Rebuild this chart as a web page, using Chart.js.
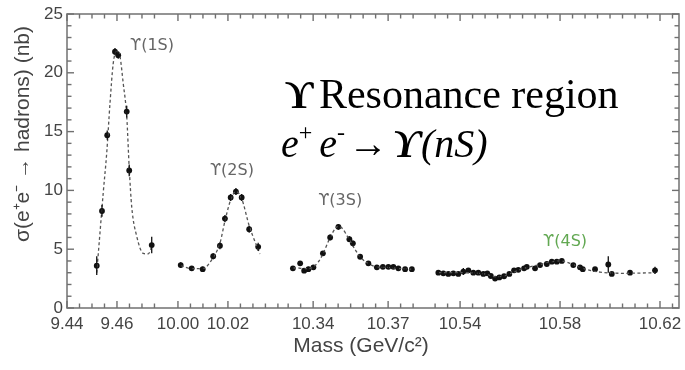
<!DOCTYPE html>
<html>
<head>
<meta charset="utf-8">
<title>Upsilon resonance region</title>
<script src="https://cdn.jsdelivr.net/npm/chart.js@4.4.1/dist/chart.umd.min.js"></script>
<style>
  html, body { margin: 0; padding: 0; background: #fff; }
  #wrap { width: 685px; height: 370px; position: relative; }
</style>
</head>
<body>
<div id="wrap"><canvas id="chart"></canvas></div>
<script>
// Broken mass axis: four scan windows (GeV)
const segMin = [9.44, 9.9951, 10.3284, 10.5256];
const segMax = [9.4795, 10.0425, 10.3844, 10.6276];
const segLabels = [[9.44, 9.46], [10.00, 10.02], [10.34, 10.37], [10.54, 10.58, 10.62]];
const yTickValues = [0, 1, 2, 3, 4, 5, 6, 7, 8, 9, 10, 11, 12, 13, 14, 15, 16, 17, 18, 19, 20, 21, 22, 23, 24, 25];

// Υ(1S) scan
const mass1S = [9.4519, 9.4540, 9.4561, 9.4592, 9.4605, 9.4639, 9.4649, 9.4739];
const xsec1S = [3.6, 8.25, 14.7, 21.8, 21.5, 16.7, 11.7, 5.35];
const err1S = [0.8, 0.5, 0.4, 0.3, 0.3, 0.5, 0.5, 0.7];
const fitMass1S = [9.4519, 9.4532, 9.4545, 9.4559, 9.4572, 9.4585, 9.4599, 9.4612, 9.4625, 9.4639, 9.4649, 9.4659, 9.4679, 9.4705, 9.4725, 9.4739];
const fitXsec1S = [3.0, 6.4, 9.8, 13.2, 17.4, 20.8, 21.9, 21.4, 19.1, 16.3, 11.9, 8.6, 6.1, 4.65, 4.6, 5.2];

// Υ(2S) scan
const mass2S = [10.0011, 10.0055, 10.0099, 10.0141, 10.0168, 10.0188, 10.0211, 10.0232, 10.0255, 10.0285, 10.0321];
const xsec2S = [3.65, 3.37, 3.3, 4.4, 5.3, 7.6, 9.4, 9.9, 9.4, 6.7, 5.2];
const err2S = [0.25, 0.2, 0.2, 0.25, 0.3, 0.3, 0.3, 0.3, 0.3, 0.3, 0.35];
const fitMass2S = [10.0011, 10.0055, 10.0099, 10.0141, 10.0168, 10.0188, 10.0211, 10.0232, 10.0255, 10.0285, 10.0328];
const fitXsec2S = [3.6, 3.35, 3.35, 4.3, 5.5, 7.4, 9.2, 9.9, 9.3, 7.0, 4.6];

// Υ(3S) scan
const mass3S = [10.3319, 10.3348, 10.3364, 10.3381, 10.3401, 10.3439, 10.3468, 10.3501, 10.3545, 10.3559, 10.3588, 10.3621, 10.3655, 10.3679, 10.3701, 10.3721, 10.3741, 10.3768, 10.3795];
const xsec3S = [3.37, 3.8, 3.17, 3.3, 3.46, 4.65, 6.0, 6.9, 5.85, 5.5, 4.36, 3.8, 3.46, 3.5, 3.5, 3.5, 3.37, 3.3, 3.3];
const err3S = [0.2, 0.2, 0.2, 0.2, 0.2, 0.2, 0.25, 0.25, 0.25, 0.25, 0.2, 0.2, 0.2, 0.15, 0.15, 0.15, 0.15, 0.15, 0.15];
const fitMass3S = [10.3319, 10.3340, 10.3360, 10.3381, 10.3401, 10.3420, 10.3439, 10.3468, 10.3490, 10.3501, 10.3515, 10.3545, 10.3570, 10.3590, 10.3620, 10.3655, 10.3700, 10.3750, 10.3795];
const fitXsec3S = [3.4, 3.4, 3.35, 3.35, 3.5, 3.9, 4.6, 6.0, 6.8, 6.95, 6.8, 5.8, 4.9, 4.3, 3.8, 3.5, 3.45, 3.35, 3.3];

// Υ(4S) scan
const mass4S = [10.5313, 10.5333, 10.5353, 10.5373, 10.5393, 10.5413, 10.5433, 10.5453, 10.5473, 10.5493, 10.5509, 10.5523, 10.5540, 10.5557, 10.5576, 10.5597, 10.5616, 10.5633, 10.5656, 10.5667, 10.5700, 10.5720, 10.5747, 10.5767, 10.5787, 10.5807, 10.5853, 10.5880, 10.5891, 10.5940, 10.5993, 10.6007, 10.6080, 10.6180];
const xsec4S = [3.0, 2.95, 2.9, 2.95, 2.9, 3.1, 3.2, 3.0, 3.0, 2.9, 2.95, 2.72, 2.5, 2.6, 2.7, 2.9, 3.2, 3.25, 3.37, 3.5, 3.37, 3.65, 3.74, 3.94, 3.94, 4.0, 3.65, 3.46, 3.3, 3.3, 3.7, 2.9, 3.0, 3.2];
const err4S = [0.1, 0.1, 0.1, 0.1, 0.1, 0.3, 0.1, 0.1, 0.1, 0.1, 0.1, 0.1, 0.1, 0.1, 0.1, 0.1, 0.1, 0.1, 0.1, 0.1, 0.1, 0.1, 0.1, 0.1, 0.1, 0.1, 0.1, 0.1, 0.1, 0.1, 0.7, 0.15, 0.1, 0.3];
const fitMass4S = [10.5313, 10.5400, 10.5480, 10.5510, 10.5540, 10.5580, 10.5620, 10.5660, 10.5710, 10.5760, 10.5800, 10.5840, 10.5880, 10.5920, 10.5960, 10.6050, 10.6180];
const fitXsec4S = [3.0, 3.0, 2.95, 2.85, 2.65, 2.75, 3.1, 3.4, 3.65, 3.9, 4.0, 3.8, 3.45, 3.2, 3.05, 2.95, 3.0];

const scans = [
    { axis: 'x1', mass: mass1S, xsec: xsec1S, err: err1S, fitMass: fitMass1S, fitXsec: fitXsec1S },
    { axis: 'x2', mass: mass2S, xsec: xsec2S, err: err2S, fitMass: fitMass2S, fitXsec: fitXsec2S },
    { axis: 'x3', mass: mass3S, xsec: xsec3S, err: err3S, fitMass: fitMass3S, fitXsec: fitXsec3S },
    { axis: 'x4', mass: mass4S, xsec: xsec4S, err: err4S, fitMass: fitMass4S, fitXsec: fitXsec4S }
];

// Peak labels, placed in data coordinates of their window
const peakLabels = [
    { text: 'ϒ(1S)', axis: 'x1', x: 9.4652, y: 21.9, color: '#666' },
    { text: 'ϒ(2S)', axis: 'x2', x: 10.0128, y: 11.3, color: '#666' },
    { text: 'ϒ(3S)', axis: 'x3', x: 10.342, y: 8.76, color: '#666' },
    { text: 'ϒ(4S)', axis: 'x4', x: 10.5732, y: 5.27, color: '#62a852' }
];

const SANS = '"Liberation Sans", Arial, Helvetica, sans-serif';
const SERIF = '"Liberation Serif", "Times New Roman", "DejaVu Serif", serif';
const TEXT_GRAY = '#444';

const isLabelled = (seg, v) => segLabels[seg].some(l => Math.abs(l - v) < 1e-7);

// 5 MeV tick steps inside one window
function segTicks(i) {
    const out = [];
    for (let k = Math.ceil(segMin[i] * 200 - 1e-6); k <= Math.floor(segMax[i] * 200 + 1e-6); k++) {
        out.push(k / 200);
    }
    return out;
}

const datasets = [];
scans.forEach(s => {
    datasets.push({
        data: s.fitMass.map((m, i) => ({ x: m, y: s.fitXsec[i] })),
        xAxisID: s.axis,
        showLine: true,
        borderColor: '#555',
        borderWidth: 1.3,
        borderDash: [3, 2.5],
        pointRadius: 0,
        cubicInterpolationMode: 'monotone',
        fill: false
    });
    datasets.push({
        data: s.mass.map((m, i) => ({ x: m, y: s.xsec[i] })),
        xAxisID: s.axis,
        yErr: s.err,
        showLine: false,
        pointRadius: 2.9,
        pointStyle: 'circle',
        backgroundColor: '#111',
        borderColor: '#111',
        borderWidth: 0
    });
});

const scales = {
    y: {
        min: 0,
        max: 25,
        afterBuildTicks: s => { s.ticks = yTickValues.map(v => ({ value: v })); },
        ticks: {
            autoSkip: false,
            padding: 4,
            color: TEXT_GRAY,
            font: { family: SANS, size: 17 },
            callback: v => (v % 5 === 0 ? String(v) : '')
        },
        grid: { display: false, drawTicks: false },
        border: { display: false },
        afterFit: s => { s.width = 67; s.paddingTop = 0; s.paddingBottom = 0; }
    }
};

segMin.forEach((min, i) => {
    scales['x' + (i + 1)] = {
        type: 'linear',
        position: 'bottom',
        stack: 'mass',
        stackWeight: segMax[i] - min,
        min: min,
        max: segMax[i],
        afterBuildTicks: s => { s.ticks = segTicks(i).map(v => ({ value: v })); },
        ticks: {
            autoSkip: false,
            maxRotation: 0,
            padding: 6,
            color: TEXT_GRAY,
            font: { family: SANS, size: 17 },
            callback: v => (isLabelled(i, v) ? v.toFixed(2) : '')
        },
        grid: { display: false, drawTicks: false },
        border: { display: false },
        afterFit: s => { s.height = 62; s.paddingLeft = 0; s.paddingRight = 0; }
    };
});

function tickLine(ctx, x0, y0, x1, y1) {
    ctx.beginPath();
    ctx.moveTo(x0, y0);
    ctx.lineTo(x1, y1);
    ctx.stroke();
}

// Plot frame with inward tick marks on all four sides
const framePlugin = {
    id: 'frame',
    afterDraw(chart) {
        const ctx = chart.ctx;
        const a = chart.chartArea;
        const yScale = chart.scales.y;
        ctx.save();
        ctx.setLineDash([]);
        ctx.strokeStyle = '#7a7a7a';
        ctx.lineWidth = 1.6;
        ctx.strokeRect(a.left, a.top, a.right - a.left, a.bottom - a.top);
        ctx.strokeStyle = '#707070';
        ctx.lineWidth = 1.4;
        yTickValues.forEach(v => {
            const py = yScale.getPixelForValue(v);
            const len = v % 5 === 0 ? 7 : 4.5;
            tickLine(ctx, a.left, py, a.left + len, py);
            tickLine(ctx, a.right, py, a.right - len, py);
        });
        segMin.forEach((_, i) => {
            const s = chart.scales['x' + (i + 1)];
            segTicks(i).forEach(v => {
                const px = s.getPixelForValue(v);
                const len = isLabelled(i, v) ? 7 : 4.5;
                tickLine(ctx, px, a.bottom, px, a.bottom - len);
                tickLine(ctx, px, a.top, px, a.top + len);
            });
        });
        ctx.restore();
    }
};

// Vertical error bars from each dataset's yErr
const errorBarPlugin = {
    id: 'errorBars',
    afterDatasetsDraw(chart) {
        const { ctx } = chart;
        const y = chart.scales.y;
        ctx.save();
        ctx.strokeStyle = '#111';
        ctx.lineWidth = 1.3;
        ctx.setLineDash([]);
        ctx.beginPath();
        chart.data.datasets.forEach((ds, di) => {
            if (!ds.yErr) return;
            chart.getDatasetMeta(di).data.forEach((pt, i) => {
                const v = ds.data[i].y;
                const e = ds.yErr[i];
                ctx.moveTo(pt.x, y.getPixelForValue(v + e));
                ctx.lineTo(pt.x, y.getPixelForValue(v - e));
            });
        });
        ctx.stroke();
        ctx.restore();
    }
};

// Axis titles, peak names and the headline
const textPlugin = {
    id: 'texts',
    afterDraw(chart) {
        const { ctx, chartArea: a, scales: sc } = chart;
        ctx.save();
        ctx.fillStyle = TEXT_GRAY;
        ctx.font = '21px ' + SANS;
        ctx.textAlign = 'center';
        ctx.textBaseline = 'alphabetic';
        ctx.fillText('Mass (GeV/c²)', 361, 352);

        ctx.translate(29, 134);
        ctx.rotate(-Math.PI / 2);
        ctx.fillText('σ(e⁺e⁻ → hadrons) (nb)', 0, 0);
        ctx.setTransform(1, 0, 0, 1, 0, 0);

        ctx.textAlign = 'left';
        ctx.font = '16px "DejaVu Sans", ' + SANS;
        peakLabels.forEach(l => {
            ctx.fillStyle = l.color;
            ctx.fillText(l.text, sc[l.axis].getPixelForValue(l.x), sc.y.getPixelForValue(l.y));
        });

        // headline
        ctx.fillStyle = '#000';
        let x = a.left + 218;
        let base = 108;
        ctx.font = 'bold 40px ' + SERIF;
        ctx.fillText('ϒ', x, base);
        x += ctx.measureText('ϒ').width + 5;
        ctx.font = '42px ' + SERIF;
        ctx.fillText('Resonance region', x, base);

        // e+ e- -> Y(nS), each piece followed by its own gap
        x = a.left + 214;
        base = 157;
        const parts = [
            ['e', 'italic 40px ', 0, 0],
            ['+', '24px ', -17, 7],
            ['e', 'italic 40px ', 0, 0],
            ['-', '24px ', -17, 3],
            ['→', '40px ', 0, 4],
            ['ϒ', 'italic bold 40px ', 0, 0],
            ['(nS)', 'italic 40px ', 0, 0]
        ];
        parts.forEach(([t, f, dy, gap]) => {
            ctx.font = f + SERIF;
            ctx.fillText(t, x, base + dy);
            x += ctx.measureText(t).width + gap;
        });
        ctx.restore();
    }
};

new Chart(document.getElementById('chart'), {
    type: 'scatter',
    data: { datasets },
    options: {
        responsive: true,
        maintainAspectRatio: false,
        animation: false,
        layout: { padding: { top: 14, right: 6, left: 0, bottom: 0 } },
        plugins: {
            legend: { display: false },
            tooltip: { enabled: false }
        },
        scales
    },
    plugins: [framePlugin, errorBarPlugin, textPlugin]
});
</script>
</body>
</html>
